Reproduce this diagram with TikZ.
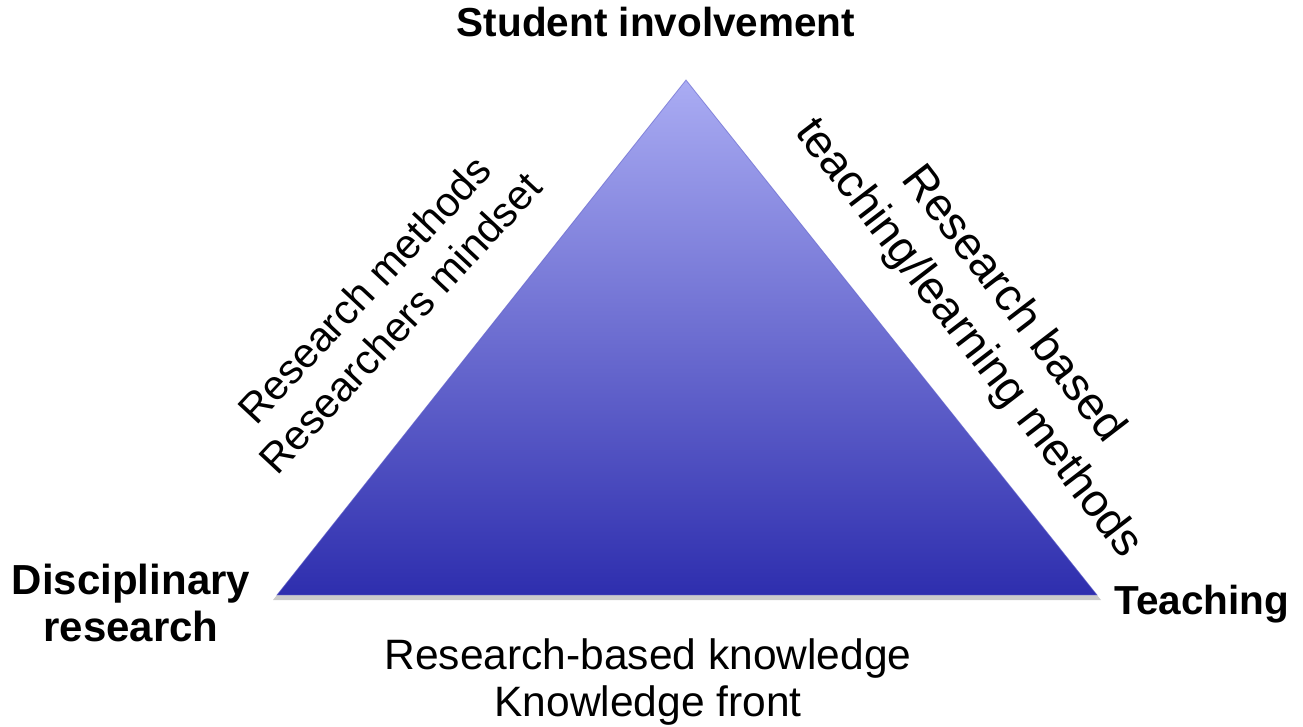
\documentclass[tikz,border=0pt]{standalone}
\usepackage{fontspec}
\setmainfont{Liberation Sans}
\definecolor{tritop}{HTML}{AAACF3}
\definecolor{trimid}{HTML}{8282DA}
\definecolor{tribot}{HTML}{2E2EAE}
\begin{document}
\begin{tikzpicture}[x=0.5pt,y=-0.5pt,
  lbl/.style={font=\fontsize{21.25}{23.5}\selectfont,align=center,inner sep=0pt},
  corner/.style={lbl,font=\fontsize{20.25}{23.5}\selectfont\bfseries}]
\useasboundingbox (0,0) rectangle (1303,727);
% triangle with shadow
\fill[black!45,opacity=0.45] (686,84) -- (273,600) -- (1101,600) -- cycle;
\shade[top color=tritop,middle color=trimid,bottom color=tribot]
  (686,80) -- (277,595) -- (1097,595) -- cycle;
\draw[tribot!60!tritop,opacity=0.6,line width=0.4pt] (686,80) -- (277,595) -- (1097,595) -- cycle;
% corners
\node[corner] (student) at (656,22) {Student involvement};
\node[corner,font=\fontsize{21}{23.5}\selectfont\bfseries] (discres) at (131,603) {Disciplinary\\research};
\node[corner] (teach) at (1202,604) {Teaching};
% sides
\node[lbl] (knowl) at (648,682) {Research-based knowledge\\Knowledge front};
\node[lbl,rotate=47,font=\fontsize{20.75}{24.5}\selectfont] (methods) at (382,306) {Research methods\\Researchers mindset};
\node[lbl,rotate=-52.5,font=\fontsize{23}{28}\selectfont] (tlmeth) at (990,322) {Research based\\teaching/learning methods};
\end{tikzpicture}
\end{document}
